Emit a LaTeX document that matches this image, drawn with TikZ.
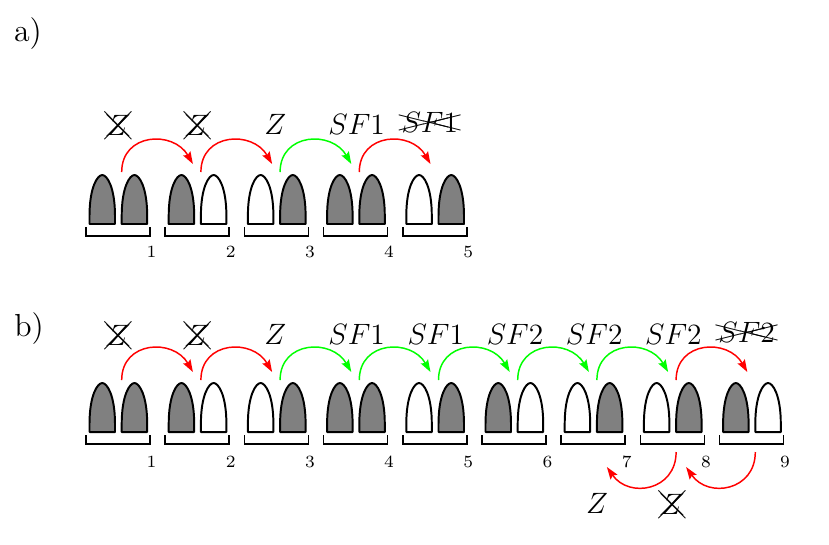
\documentclass[tikz,border=0pt]{standalone}
\usepackage{cancel}
\usetikzlibrary{arrows.meta}
\newcommand{\tooth}[3]{\draw[tooth,fill=#3,shift={(#1,#2)}] (0,0) -- (0,8) .. controls (0,37) and (8,49) .. (12.75,49) .. controls (17.5,49) and (25.5,37) .. (25.5,8) -- (25.5,0) -- cycle;}
\begin{document}
\begin{tikzpicture}[x=0.408pt,y=0.408pt,
  tooth/.style={draw=black,thick,line join=round},
  brace/.style={draw=black,semithick},
  hop/.style={semithick,-{Stealth[length=5pt,width=3.4pt,inset=0.8pt]}},
  arc up/.style={out=90,in=120,looseness=1.4},
  arc down/.style={out=-90,in=-55,looseness=1.4},
  lbl/.style={font=\fontsize{13pt}{15pt}\selectfont},
  num/.style={font=\scriptsize,inner sep=0pt}]
\useasboundingbox (0,0) rectangle (829,-544);
\node[lbl] (a) at (28,-34) {a)};
\node[lbl] (b) at (29,-329) {b)};
\foreach \g/\l/\r in {1/gray/gray,2/gray/white,3/white/gray,4/gray/gray,5/white/gray}{
  \pgfmathsetmacro{\gx}{89.5+79.2*(\g-1)}
  \tooth{\gx}{-224}{\l}
  \tooth{\gx+32.2}{-224}{\r}
  \draw[brace] (\gx-3.5,-227) -- (\gx-3.5,-236) -- (\gx+60.5,-236) -- (\gx+60.5,-227);
  \node[num] (na\g) at (\gx+62,-252) {\g};
  \coordinate (a\g) at (\gx+32.2,-172);
}
\foreach \g/\t/\dx in {1/\xcancel{Z}/-1,2/\xcancel{Z}/-1,3/Z/-2,4/SF1/0,5/\xcancel{SF1}/-6}{
  \node[lbl] (la\g) at (119+79.2*\g-79.2+\dx,-124) {$\t$};
}
\foreach \i/\j/\c in {1/2/red,2/3/red,3/4/green,4/5/red}
  \draw[hop,\c] (a\i) to[arc up] ([shift={(-8,8)}]a\j);
\foreach \g/\l/\r in {1/gray/gray,2/gray/white,3/white/gray,4/gray/gray,5/white/gray,6/gray/white,7/white/gray,8/white/gray,9/gray/white}{
  \pgfmathsetmacro{\gx}{89.5+79.2*(\g-1)}
  \tooth{\gx}{-432}{\l}
  \tooth{\gx+32.2}{-432}{\r}
  \draw[brace] (\gx-3.5,-435) -- (\gx-3.5,-444) -- (\gx+60.5,-444) -- (\gx+60.5,-435);
  \node[num] (nb\g) at (\gx+62,-462) {\g};
  \coordinate (b\g) at (\gx+32.2,-380);
  \coordinate (c\g) at (\gx+32.2,-452);
}
\foreach \g/\t/\dx in {1/\xcancel{Z}/-1,2/\xcancel{Z}/-1,3/Z/-2,4/SF1/0,5/SF1/0,6/SF2/0,7/SF2/0,8/SF2/0,9/\xcancel{SF2}/-6}{
  \node[lbl] (lb\g) at (119+79.2*\g-79.2+\dx,-334) {$\t$};
}
\foreach \i/\j/\c in {1/2/red,2/3/red,3/4/green,4/5/green,5/6/green,6/7/green,7/8/green,8/9/red}
  \draw[hop,\c] (b\i) to[arc up] ([shift={(-8,8)}]b\j);
\draw[hop,red] (c8) to[arc down] ([shift={(10,-15)}]c7);
\draw[hop,red] (c9) to[arc down] ([shift={(10,-15)}]c8);
\node[lbl] (lc7) at (597,-503) {$Z$};
\node[lbl] (lc8) at (672,-503) {$\xcancel{Z}$};
\end{tikzpicture}
\end{document}
